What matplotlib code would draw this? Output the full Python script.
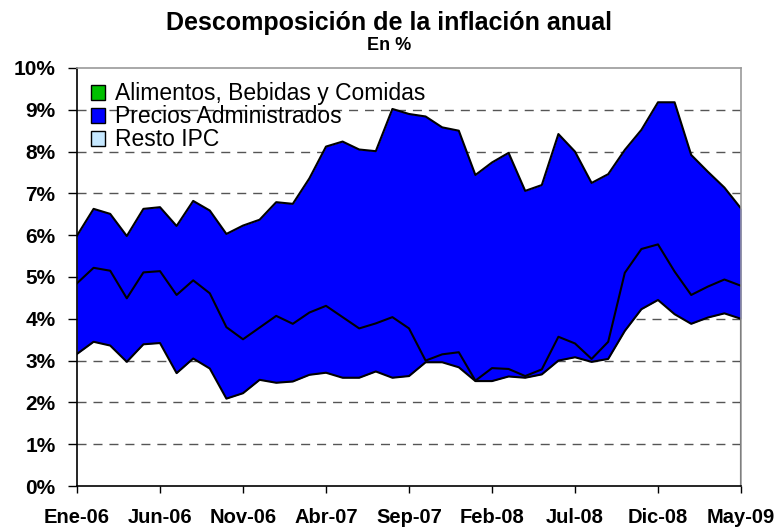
import matplotlib
matplotlib.use("Agg")
import matplotlib.pyplot as plt
from matplotlib.patches import Patch
from matplotlib.ticker import FuncFormatter
import numpy as np

months = ["Ene-06", "Feb-06", "Mar-06", "Abr-06", "May-06", "Jun-06", "Jul-06", "Ago-06", "Sep-06", "Oct-06",
          "Nov-06", "Dic-06", "Ene-07", "Feb-07", "Mar-07", "Abr-07", "May-07", "Jun-07", "Jul-07", "Ago-07",
          "Sep-07", "Oct-07", "Nov-07", "Dic-07", "Ene-08", "Feb-08", "Mar-08", "Abr-08", "May-08", "Jun-08",
          "Jul-08", "Ago-08", "Sep-08", "Oct-08", "Nov-08", "Dic-08", "Ene-09", "Feb-09", "Mar-09", "Abr-09",
          "May-09"]

# boundary lines of the stacked areas (in %)
lower = [3.16, 3.45, 3.36, 2.97, 3.39, 3.42, 2.70, 3.05, 2.81, 2.09,
         2.22, 2.54, 2.47, 2.50, 2.66, 2.71, 2.59, 2.59, 2.74, 2.59,
         2.63, 2.96, 2.96, 2.84, 2.51, 2.51, 2.62, 2.59, 2.67, 3.00,
         3.08, 2.97, 3.04, 3.71, 4.23, 4.45, 4.11, 3.88, 4.03, 4.13,
         4.00]
middle = [4.85, 5.22, 5.15, 4.49, 5.11, 5.14, 4.57, 4.92, 4.61, 3.80,
          3.51, 3.79, 4.07, 3.88, 4.15, 4.31, 4.04, 3.77, 3.89, 4.04,
          3.77, 3.00, 3.15, 3.20, 2.52, 2.82, 2.80, 2.63, 2.79, 3.57,
          3.41, 3.04, 3.45, 5.10, 5.67, 5.78, 5.13, 4.57, 4.77, 4.94,
          4.79]
upper = [5.99, 6.63, 6.51, 5.98, 6.63, 6.67, 6.22, 6.82, 6.59, 6.03,
         6.23, 6.37, 6.79, 6.75, 7.36, 8.12, 8.24, 8.05, 8.01, 9.02,
         8.90, 8.84, 8.58, 8.50, 7.44, 7.74, 7.97, 7.06, 7.20, 8.42,
         8.00, 7.25, 7.46, 8.04, 8.52, 9.18, 9.18, 7.92, 7.52, 7.14,
         6.64]

legend_labels = ["Alimentos, Bebidas y Comidas", "Precios Administrados", "Resto IPC"]
legend_colors = ["#00C000", "#0000FF", "#C6E8FF"]
yticks = [0, 1, 2, 3, 4, 5, 6, 7, 8, 9, 10]

plt.rcParams['font.family'] = ['Liberation Sans', 'DejaVu Sans']

fig = plt.figure(figsize=(7.78, 5.30), dpi=100)
ax = fig.add_axes([77/778, 44/530, 664/778, 418/530])

x = np.arange(len(months))
ax.fill_between(x, lower, upper, color="#0000FF", linewidth=0, zorder=2)
for series in (lower, middle, upper):
    ax.plot(x, series, color="black", linewidth=1.5, zorder=3)
ax.vlines(x[-1], 0, lower[-1], color="black", linewidth=1.5, zorder=3)

ax.set_xlim(0, len(months) - 1)
ax.set_ylim(0, 10)
ax.set_yticks(yticks)
ax.yaxis.set_major_formatter(FuncFormatter(lambda v, p: f"{int(v)}%"))
tick_idx = list(range(0, len(months), 5))
ax.set_xticks(tick_idx)
ax.set_xticklabels([months[i] for i in tick_idx])

for v in yticks[1:-1]:
    ax.axhline(v, color="#555555", linewidth=1, linestyle=(0, (6.5, 5)), zorder=1)

for lbl in ax.get_xticklabels():
    lbl.set_fontweight("bold")
    lbl.set_fontsize(14.5)
for lbl in ax.get_yticklabels():
    lbl.set_fontweight("bold")
    lbl.set_fontsize(15)

ax.tick_params(axis="x", direction="out", length=5, width=1, pad=11)
ax.tick_params(axis="y", direction="out", length=6.5, width=1, pad=9)
ax.spines["left"].set_color("black")
ax.spines["bottom"].set_color("black")
ax.spines["top"].set_color("#999999")
ax.spines["right"].set_color("#999999")
for s in ax.spines.values():
    s.set_linewidth(1.2)
    s.set_zorder(4)

handles = [Patch(facecolor=c, edgecolor="black", linewidth=1) for c in legend_colors]
ax.legend(handles, legend_labels, loc="upper left", bbox_to_anchor=(0.0, 1.0), frameon=False,
          fontsize=16.5, handlelength=0.62, handleheight=0.62, handletextpad=0.4,
          labelspacing=0.0, borderaxespad=0.22)

fig.text(0.5, 1 - 23/530, "Descomposición de la inflación anual", ha="center", va="center",
         fontsize=18, fontweight="bold")
fig.text(0.5, 1 - 45/530, "En %", ha="center", va="center", fontsize=13, fontweight="bold")

fig.savefig("out.png", dpi=100)
